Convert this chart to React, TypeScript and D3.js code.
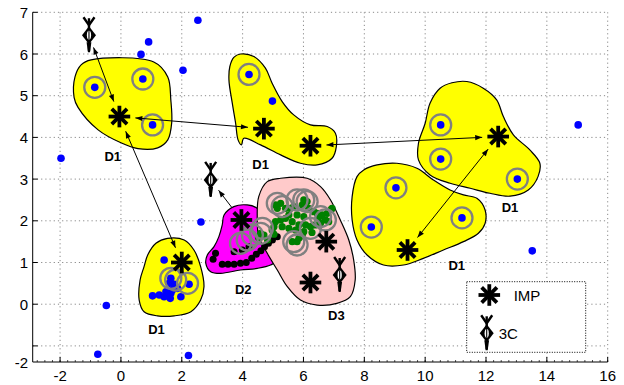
import React from "react";
import * as d3 from "d3";

// ---------- data ----------
const X_TICKS = [-2, 0, 2, 4, 6, 8, 10, 12, 14, 16];
const Y_TICKS = [-1, 0, 1, 2, 3, 4, 5, 6, 7];
const Y_TICK_LABELS = ["", "0", "1", "2", "3", "4", "5", "6", "7"];
const Y_BOTTOM_LABEL = "-2";

const BLUE_X = [-1.97, 0.66, 0.91, 2.53, 2.04, 4.98, 15.03, 13.52, -0.48, -0.76, 2.22, 2.63,
  -0.86, 0.72, 1.04, 4.21, 10.51, 10.51, 13.03, 9.04, 8.23, 11.21,
  1.42, 1.64, 1.59, 1.75, 1.86, 1.69, 1.64, 1.53, 1.42, 1.26, 1.04, 1.97, 2.24, 1.48, 1.62];
const BLUE_Y = [3.5, 5.99, 6.29, 6.81, 5.61, 4.87, 4.3, 1.28, -0.03, -1.2, -1.23, 1.97,
  5.2, 5.4, 4.3, 5.51, 4.3, 3.48, 3.0, 2.79, 1.85, 2.07,
  1.06, 0.62, 0.5, 0.48, 0.38, 0.34, 0.26, 0.22, 0.18, 0.22, 0.2, 0.18, 0.48, 0.3, 0.14];

const BLACK_X = [3.03, 3.33, 3.52, 3.72, 3.93, 4.12, 4.3, 4.45, 4.6, 4.72, 4.85, 4.98, 5.14, 3.72, 3.99, 4.21, 3.11];
const BLACK_Y = [1.08, 0.96, 0.96, 0.96, 0.98, 1.0, 1.1, 1.2, 1.28, 1.38, 1.46, 1.54, 1.62, 1.26, 1.3, 1.38, 1.22];

const GREEN_X = [5.08, 5.14, 5.25, 5.41, 5.57, 5.68, 6.01, 6.12, 5.96, 6.17, 6.34, 6.45, 6.61, 6.78, 6.92, 6.72, 6.56, 6.39,
  6.23, 6.07, 5.85, 5.63, 5.41, 5.25, 5.08, 5.03, 4.97, 5.03, 5.3, 5.52, 5.74, 6.01, 6.28, 5.85, 5.63, 5.79, 5.96, 4.59,
  4.52, 5.52, 5.79, 6.01, 6.5, 6.83, 4.82, 4.7, 6.94];
const GREEN_Y = [2.38, 2.3, 2.42, 2.3, 2.3, 2.34, 2.5, 2.46, 2.38, 2.3, 2.22, 2.18, 2.14, 2.18, 2.28, 2.02, 1.94, 1.9,
  1.86, 1.9, 1.9, 1.98, 2.06, 2.02, 1.98, 1.86, 1.78, 1.68, 1.86, 1.82, 1.78, 1.74, 1.72, 1.58, 1.5, 1.5, 1.64, 1.7,
  1.6, 2.14, 2.14, 2.1, 2.08, 1.98, 1.54, 1.66, 2.3];

const RING_X = [-0.86, 0.72, 1.04, 4.21, 10.51, 10.51, 13.03, 9.04, 8.23, 11.21, 1.64, 1.8, 2.19,
  3.93, 4.15, 4.32, 5.14, 5.3, 5.79, 6.01, 6.12, 6.56, 6.72, 5.68, 5.79, 6.23, 4.65, 4.59];
const RING_Y = [5.2, 5.4, 4.3, 5.51, 4.3, 3.48, 3.0, 2.79, 1.85, 2.07, 0.62, 0.58, 0.5,
  1.46, 1.54, 1.66, 2.42, 2.34, 2.5, 2.5, 2.46, 2.1, 2.02, 1.5, 1.42, 1.82, 1.82, 1.7];

const IMP_X = [-0.05, 4.7, 6.23, 12.4, 9.42, 2.0, 3.96, 6.75, 6.23];
const IMP_Y = [4.5, 4.21, 3.8, 4.02, 1.3, 1.0, 2.02, 1.5, 0.52];

const C3_X = [-1.05, 2.95, 7.19];
const C3_Y = [6.45, 2.98, 0.7];

// arrows: endpoints refer to markers ("i" = IMP index, "c" = 3C index)
const ARROW_FROM = ["i0", "i0", "i0", "i2", "i3", "i6"];
const ARROW_TO = ["c0", "i1", "i5", "i3", "i4", "c1"];
const ARROW_BOTH = [true, true, true, true, true, false];

const LABEL_TEXT = ["D1", "D1", "D1", "D1", "D1", "D2", "D3"];
const LABEL_X = [-0.27, 4.59, 12.79, 11.04, 1.17, 4.02, 7.08];
const LABEL_Y = [3.54, 3.34, 2.31, 0.94, -0.6, 0.36, -0.28];

const BLOB_A: [number, number][] = [[-0.98, 5.86], [1.08, 5.81], [1.54, 5.45], [1.64, 4.9], [1.67, 4.36], [1.54, 3.94],
  [1.21, 3.75], [0.56, 3.73], [0.0, 3.87], [-0.75, 4.18], [-1.41, 4.72], [-1.54, 4.96], [-1.51, 5.45], [-1.31, 5.74]];
const BLOB_B: [number, number][] = [[3.93, 6.0], [4.37, 5.94], [4.75, 5.66], [4.97, 5.3], [5.3, 4.86], [5.68, 4.54],
  [6.23, 4.3], [6.78, 4.26], [7.05, 4.1], [7.08, 3.78], [6.94, 3.5], [6.45, 3.34], [5.9, 3.38], [5.25, 3.58],
  [4.59, 3.82], [4.04, 3.98], [3.96, 3.82], [3.85, 3.94], [3.77, 4.34], [3.66, 4.82], [3.55, 5.38], [3.58, 5.7], [3.71, 5.92]];
const BLOB_C: [number, number][] = [[10.88, 5.31], [11.37, 5.34], [11.91, 5.18], [12.35, 4.9], [12.57, 4.5], [12.9, 4.06],
  [13.44, 3.7], [13.77, 3.38], [13.71, 3.06], [13.39, 2.74], [12.79, 2.59], [12.13, 2.66], [11.48, 2.78], [10.82, 2.9],
  [10.16, 3.1], [9.78, 3.46], [9.78, 3.86], [10.0, 4.34], [10.16, 4.82], [10.49, 5.18]];
const BLOB_D: [number, number][] = [[7.98, 3.22], [8.42, 3.34], [9.07, 3.38], [9.73, 3.26], [10.27, 2.98], [10.82, 2.74],
  [11.26, 2.62], [11.7, 2.54], [11.97, 2.26], [11.97, 1.94], [11.75, 1.7], [11.26, 1.5], [10.6, 1.3], [9.94, 1.1],
  [9.29, 0.94], [8.63, 0.94], [8.09, 1.18], [7.76, 1.54], [7.6, 2.02], [7.6, 2.58], [7.76, 3.06]];
const BLOB_E: [number, number][] = [[1.53, 1.58], [2.08, 1.54], [2.4, 1.3], [2.62, 0.9], [2.73, 0.42], [2.62, 0.1],
  [2.3, -0.18], [1.75, -0.28], [1.2, -0.28], [0.76, -0.18], [0.6, 0.1], [0.63, 0.58], [0.76, 0.9], [0.88, 1.18], [1.15, 1.46]];
const BLOB_D2: [number, number][] = [[3.39, 2.14], [3.71, 2.34], [4.15, 2.38], [4.48, 2.3], [4.7, 2.06], [4.81, 1.78],
  [5.03, 1.38], [5.14, 1.06], [4.92, 0.94], [4.48, 0.86], [3.93, 0.82], [3.28, 0.74], [2.95, 0.78], [2.79, 0.98],
  [2.84, 1.18], [3.06, 1.38], [3.22, 1.62], [3.33, 1.9]];
const BLOB_D3: [number, number][] = [[4.81, 2.94], [5.25, 3.02], [6.12, 3.02], [6.56, 2.82], [6.89, 2.5], [7.21, 2.02],
  [7.49, 1.54], [7.65, 1.06], [7.7, 0.58], [7.54, 0.18], [7.1, 0.02], [6.45, -0.02], [5.9, 0.1], [5.47, 0.42],
  [5.14, 0.82], [4.81, 1.22], [4.53, 1.62], [4.48, 2.1], [4.53, 2.58]];

const YELLOW_BLOBS = [BLOB_A, BLOB_B, BLOB_C, BLOB_D, BLOB_E];

const LEGEND_LABELS = ["IMP", "3C"];

// ---------- layout ----------
const W = 624, H = 385;
const x = d3.scaleLinear().domain([-2.9, 16]).range([32.7, 607.7]);
const y = d3.scaleLinear().domain([-1.386, 7]).range([362, 12.3]);
const FONT = "'Liberation Sans', Arial, Helvetica, sans-serif";

const blobLine = d3.line<[number, number]>()
  .x((d) => x(d[0]))
  .y((d) => y(d[1]))
  .curve(d3.curveCatmullRomClosed.alpha(0.5));

function Asterisk({ cx, cy, r = 10.8 }: { cx: number; cy: number; r?: number }) {
  const angles = [0, 45, 90, 135];
  return (
    <g transform={`translate(${cx},${cy})`}>
      {angles.map((a) => {
        const rad = (a * Math.PI) / 180;
        return (
          <line key={a} x1={-r * Math.cos(rad)} y1={-r * Math.sin(rad)} x2={r * Math.cos(rad)} y2={r * Math.sin(rad)}
            stroke="black" strokeWidth={3.8} />
        );
      })}
    </g>
  );
}

function ThreeC({ cx, cy }: { cx: number; cy: number }) {
  return (
    <g transform={`translate(${cx},${cy})`}>
      <line x1={0} y1={-17} x2={0} y2={16} stroke="black" strokeWidth={2.4} />
      <polyline points="-5.5,-18 0,-10 5.5,-18" fill="none" stroke="black" strokeWidth={2.4} />
      <path d="M0,-9 L7,0 L0,9 L-7,0Z" fill="black" />
      <ellipse cx={0} cy={0} rx={2.1} ry={4.4} fill="white" />
      <line x1={0} y1={-4.4} x2={0} y2={4.4} stroke="black" strokeWidth={1.1} />
      <path d="M-2.4,7 L2.4,7 L1,17 L-1,17Z" fill="black" />
    </g>
  );
}

function markerPos(ref: string): [number, number, number] {
  const idx = parseInt(ref.slice(1), 10);
  if (ref[0] === "i") return [x(IMP_X[idx]), y(IMP_Y[idx]), 16];
  return [x(C3_X[idx]), y(C3_Y[idx]), 13];
}

function head(tx: number, ty: number, ux: number, uy: number) {
  const L = 7, Wd = 2.6;
  const bx = tx - ux * L, by = ty - uy * L;
  const nx = -uy, ny = ux;
  return `M${tx},${ty} L${bx + nx * Wd},${by + ny * Wd} L${bx - nx * Wd},${by - ny * Wd}Z`;
}

export default function App() {
  const yMin = y.domain()[0];
  const legendX = 466.7, legendY = 281.7;
  return (
    <svg width={W} height={H} style={{ position: "absolute", left: 0, top: 0, background: "white" }}
      fontFamily={FONT}>
      <rect x={0} y={0} width={W} height={H} fill="white" />
      {/* grid */}
      {X_TICKS.map((t) => (
        <line key={"gx" + t} x1={x(t)} x2={x(t)} y1={y(yMin)} y2={y(7)} stroke="#8a8a8a" strokeWidth={1}
          strokeDasharray="1.2,3" />
      ))}
      {Y_TICKS.map((t) => (
        <line key={"gy" + t} x1={x(-2.9)} x2={x(16)} y1={y(t)} y2={y(t)} stroke="#8a8a8a" strokeWidth={1}
          strokeDasharray="1.2,3" />
      ))}

      {/* regions */}
      {YELLOW_BLOBS.map((b, i) => (
        <path key={"yb" + i} d={blobLine(b) || ""} fill="#ffff00" stroke="black" strokeWidth={1.2} />
      ))}
      <path d={blobLine(BLOB_D2) || ""} fill="#ff00ff" stroke="black" strokeWidth={1.2} />
      <path d={blobLine(BLOB_D3) || ""} fill="#ffcaca" stroke="black" strokeWidth={1.2} />

      {/* points */}
      {BLACK_X.map((v, i) => (
        <circle key={"k" + i} cx={x(v)} cy={y(BLACK_Y[i])} r={3.5} fill="black" />
      ))}
      {GREEN_X.map((v, i) => (
        <circle key={"g" + i} cx={x(v)} cy={y(GREEN_Y[i])} r={3.6} fill="#008000" />
      ))}
      {BLUE_X.map((v, i) => (
        <circle key={"b" + i} cx={x(v)} cy={y(BLUE_Y[i])} r={3.8} fill="#0000ff" />
      ))}
      {RING_X.map((v, i) => (
        <circle key={"r" + i} cx={x(v)} cy={y(RING_Y[i])} r={10.5} fill="none" stroke="#808080" strokeWidth={2.3} />
      ))}

      {/* arrows */}
      {ARROW_FROM.map((f, i) => {
        const [px, py, s1] = markerPos(f);
        const [qx, qy, s2] = markerPos(ARROW_TO[i]);
        const dx = qx - px, dy = qy - py;
        const len = Math.hypot(dx, dy);
        const ux = dx / len, uy = dy / len;
        const sx = px + ux * s1, sy = py + uy * s1;
        const ex = qx - ux * s2, ey = qy - uy * s2;
        return (
          <g key={"a" + i}>
            <line x1={sx} y1={sy} x2={ex} y2={ey} stroke="black" strokeWidth={1} />
            <path d={head(ex, ey, ux, uy)} fill="black" />
            {ARROW_BOTH[i] && <path d={head(sx, sy, -ux, -uy)} fill="black" />}
          </g>
        );
      })}

      {/* markers */}
      {IMP_X.map((v, i) => (
        <Asterisk key={"imp" + i} cx={x(v)} cy={y(IMP_Y[i])} />
      ))}
      {C3_X.map((v, i) => (
        <ThreeC key={"c3" + i} cx={x(v)} cy={y(C3_Y[i])} />
      ))}

      {/* region labels */}
      {LABEL_TEXT.map((t, i) => (
        <text key={"l" + i} x={x(LABEL_X[i])} y={y(LABEL_Y[i])} textAnchor="middle" dominantBaseline="central"
          fontSize={13} fontWeight="bold">{t}</text>
      ))}

      {/* axes */}
      <line x1={x(-2.9)} x2={x(16)} y1={y(yMin)} y2={y(yMin)} stroke="black" strokeWidth={1} />
      <line x1={x(-2.9)} x2={x(-2.9)} y1={y(yMin)} y2={y(7)} stroke="black" strokeWidth={1} />
      {d3.range(-2.75, 16.01, 0.25).map((t) => (
        <line key={"mx" + t} x1={x(t)} x2={x(t)} y1={y(yMin)} y2={y(yMin) - 2} stroke="black" strokeWidth={0.7} />
      ))}
      {X_TICKS.map((t) => (
        <g key={"xt" + t}>
          <line x1={x(t)} x2={x(t)} y1={y(yMin)} y2={y(yMin) - 5} stroke="black" strokeWidth={1} />
          <text x={x(t)} y={381} textAnchor="middle" fontSize={15}>{t}</text>
        </g>
      ))}
      {Y_TICKS.map((t, i) => (
        <g key={"yt" + t}>
          <line x1={x(-2.9)} x2={x(-2.9) + 5} y1={y(t)} y2={y(t)} stroke="black" strokeWidth={1} />
          <text x={28} y={y(t)} textAnchor="end" dominantBaseline="central" fontSize={15}>{Y_TICK_LABELS[i]}</text>
        </g>
      ))}
      <text x={28} y={y(yMin)} textAnchor="end" dominantBaseline="central" fontSize={15}>{Y_BOTTOM_LABEL}</text>

      {/* legend */}
      <rect x={legendX} y={legendY} width={119} height={70.6} fill="white" stroke="black" strokeWidth={1}
        strokeDasharray="1,1.5" />
      <Asterisk cx={legendX + 22.6} cy={legendY + 13.3} />
      <text x={legendX + 47} y={legendY + 13.3} dominantBaseline="central" fontSize={15}>{LEGEND_LABELS[0]}</text>
      <ThreeC cx={legendX + 20} cy={legendY + 51.6} />
      <text x={legendX + 32} y={legendY + 51.6} dominantBaseline="central" fontSize={15}>{LEGEND_LABELS[1]}</text>
    </svg>
  );
}
